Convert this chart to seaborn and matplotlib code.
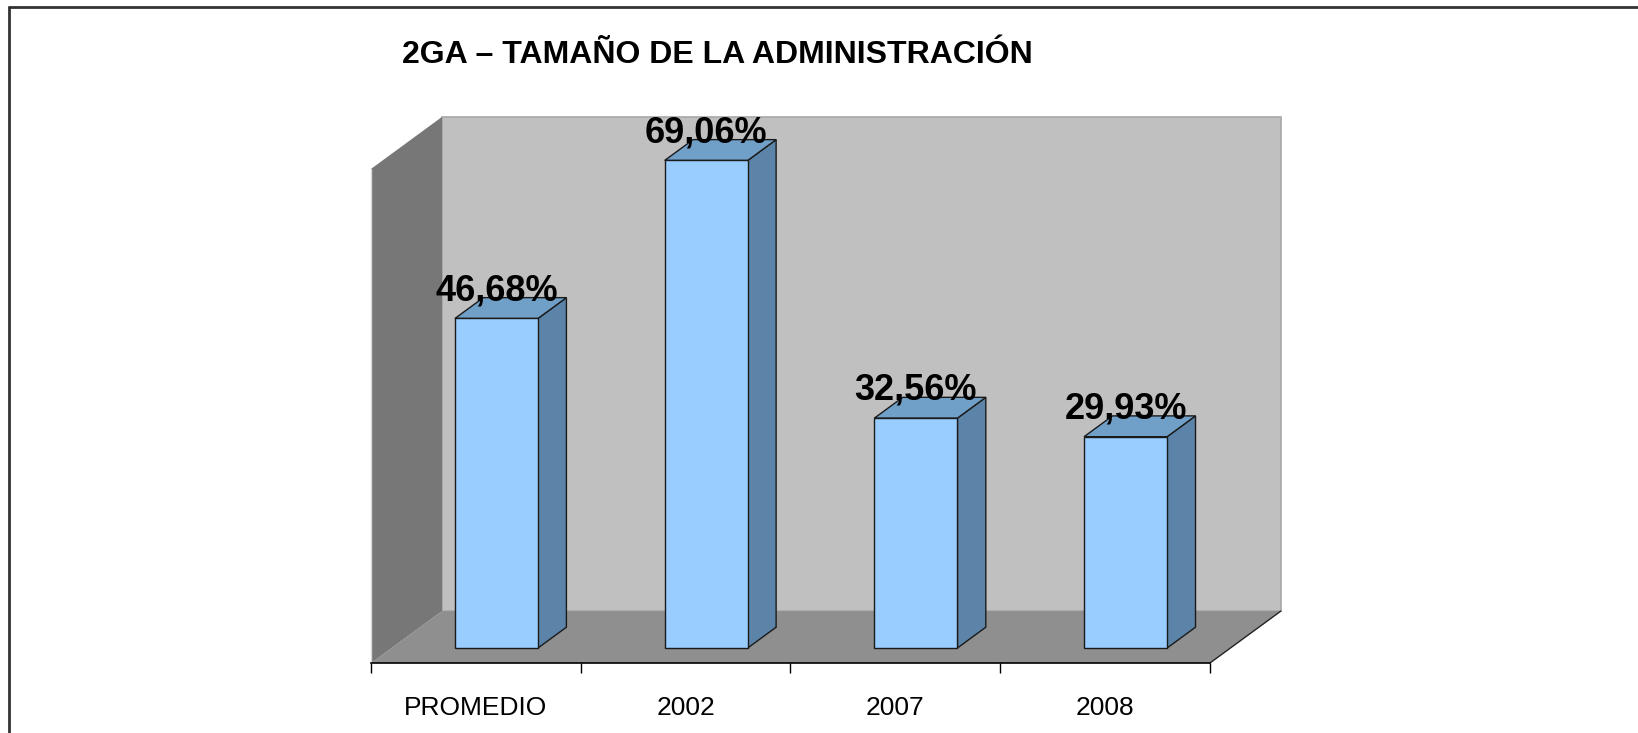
import numpy as np
import pandas as pd
import matplotlib
matplotlib.use('Agg')
import matplotlib.pyplot as plt
import seaborn as sns
from matplotlib.patches import Polygon
from matplotlib.lines import Line2D

# datos del gráfico
categories = ['PROMEDIO', '2002', '2007', '2008']
values = [46.68, 69.06, 32.56, 29.93]
value_labels = ['46,68%', '69,06%', '32,56%', '29,93%']
title = '2GA – TAMAÑO DE LA ADMINISTRACIÓN'
y_max = 70

df = pd.DataFrame({'cat': categories, 'val': values})

sns.set_style('white')
plt.rcParams['font.family'] = ['Liberation Sans', 'DejaVu Sans']
plt.rcParams['text.color'] = 'black'
plt.rcParams['xtick.color'] = 'black'

W, H = 1638, 733
fig = plt.figure(figsize=(W / 100, H / 100), dpi=100)

# escala en pixeles: 1 categoria = 209.7 px, 1% = 7.06 px
ux, uy = 209.7, 7.06
x0_px, y0_px = 496.5, 648
left, right, top, bottom = 360, 1300, 100, 690
ax = fig.add_axes([left / W, 1 - bottom / H, (right - left) / W, (bottom - top) / H])

# profundidad del "3D"
DX, DY = 71 / ux, 52 / uy
fr = 0.29            # posición de las barras en la profundidad
bd = 0.40            # profundidad de las barras
fx, fy = -fr * DX, -fr * DY
bx, by = (1 - fr) * DX, (1 - fr) * DY
n = len(categories)

# paredes y suelo
floor = Polygon([(-0.5 + fx, fy), (-0.5 + bx, by), (n - 0.5 + bx, by), (n - 0.5 + fx, fy)],
                closed=True, facecolor='#8f8f8f', edgecolor='none', zorder=0)
lwall = Polygon([(-0.5 + fx, fy), (-0.5 + fx, y_max + fy), (-0.5 + bx, y_max + by), (-0.5 + bx, by)],
                closed=True, facecolor='#777777', edgecolor='none', zorder=0)
bwall = Polygon([(-0.5 + bx, by), (-0.5 + bx, y_max + by), (n - 0.5 + bx, y_max + by), (n - 0.5 + bx, by)],
                closed=True, facecolor='#c0c0c0', edgecolor='#a8a8a8', linewidth=1.2, zorder=0)
for p in [bwall, floor, lwall]:
    ax.add_patch(p)
ax.plot([n - 0.5 + fx, n - 0.5 + bx], [fy, by], color='#222222', lw=1, zorder=1)
ax.plot([-0.5 + fx, -0.5 + fx], [fy, y_max + fy], color='#d8d8d8', lw=1, zorder=1)

# barras frontales
sns.barplot(data=df, x='cat', y='val', color='#99CCFF', saturation=1, width=0.396,
            edgecolor='#1a1a1a', linewidth=1, ax=ax, zorder=3)

for p, lab in zip(ax.patches[-n:], value_labels):
    x, w, h = p.get_x(), p.get_width(), p.get_height()
    ddx, ddy = bd * DX, bd * DY
    top_face = Polygon([(x, h), (x + ddx, h + ddy), (x + w + ddx, h + ddy), (x + w, h)],
                       closed=True, facecolor='#70a0c8', edgecolor='#1a1a1a', linewidth=1, zorder=2)
    side = Polygon([(x + w, 0), (x + w, h), (x + w + ddx, h + ddy), (x + w + ddx, ddy)],
                   closed=True, facecolor='#5b84a8', edgecolor='#1a1a1a', linewidth=1, zorder=2)
    ax.add_patch(side)
    ax.add_patch(top_face)
    ax.text(x + w / 2, h + 2.6, lab, ha='center', va='baseline',
            fontsize=26, fontweight='bold', color='black', zorder=5)

# limites despues de seaborn (seaborn los reajusta)
ax.set_xlim((left - x0_px) / ux, (right - x0_px) / ux)
ax.set_ylim(-(bottom - y0_px) / uy, (y0_px - top) / uy)

# eje x en el plano frontal
for s in ['top', 'right', 'left']:
    ax.spines[s].set_visible(False)
ax.spines['bottom'].set_position(('data', fy))
ax.spines['bottom'].set_bounds(-0.5 + fx, n - 0.5 + fx)
ax.spines['bottom'].set_color('black')
ax.spines['bottom'].set_linewidth(1.2)
ax.set_xticks(np.arange(n) + fx)
ax.set_xticklabels(categories, fontsize=19)
ax.set_xticks(np.arange(n + 1) - 0.5 + fx, minor=True)
ax.tick_params(axis='x', which='major', bottom=True, length=0, pad=24)
ax.tick_params(axis='x', which='minor', bottom=True, length=7.5, width=1, color='black', direction='out')
ax.set_yticks([])
ax.set_xlabel('')
ax.set_ylabel('')
ax.patch.set_alpha(0)

# titulo y marco
fig.text(402 / W, 1 - 63 / H, title, ha='left', va='baseline', fontsize=23, fontweight='bold')
fig.add_artist(Line2D([9 / W, 1], [1 - 7 / H, 1 - 7 / H], color='#333333', lw=2, transform=fig.transFigure))
fig.add_artist(Line2D([9 / W, 9 / W], [0, 1 - 7 / H], color='#333333', lw=2, transform=fig.transFigure))

fig.savefig('out.png', dpi=100)
